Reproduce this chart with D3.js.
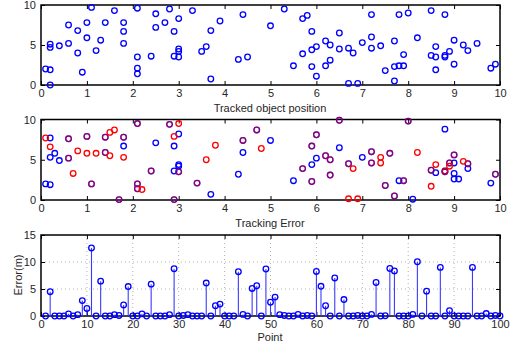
<!DOCTYPE html>
<html>
<head>
<meta charset="utf-8">
<script src="https://cdn.jsdelivr.net/npm/d3@7/dist/d3.min.js"></script>
<style>
  body { margin: 0; background: #fff; }
  text { font-family: "Liberation Sans", Arial, sans-serif; }
</style>
</head>
<body>
<svg id="chart" width="511" height="360"></svg>
<script>
// ---- data ----
const posX = [0.1, 0.2, 0.2, 0.2, 0.2, 0.4, 0.6, 0.6, 0.8, 0.8, 0.9, 1.0, 1.0, 1.1, 1.2, 1.3, 1.4, 1.6, 1.8, 1.8, 1.8,
  2.1, 2.1, 2.1, 2.1, 2.4, 2.5, 2.5, 2.7, 2.8, 2.9, 2.9, 3.0, 3.0, 3.0, 3.0, 3.3, 3.5, 3.6, 3.7, 3.7, 3.9, 4.3, 4.4, 4.5,
  5.0, 5.3, 5.5, 5.7, 5.7, 5.8, 5.9, 5.9, 5.9, 6.0, 6.0, 6.2, 6.2, 6.3, 6.3, 6.5, 6.5, 6.7, 6.7, 6.8, 6.9, 7.0,
  7.2, 7.2, 7.2, 7.4, 7.5, 7.7, 7.7, 7.7, 7.8, 7.8, 7.9, 7.9, 8.0, 8.2, 8.5, 8.5, 8.6, 8.6, 8.6, 8.8, 8.8, 8.8,
  8.9, 9.0, 9.0, 9.2, 9.3, 9.5, 9.8, 9.9]
const posY = [2.0, 1.9, 0.0, 5.1, 4.7, 4.9, 7.5, 5.2, 6.8, 4.0, 1.6, 7.8, 5.9, 9.7, 4.3, 5.6, 7.8, 9.3, 7.8, 6.7, 5.2,
  9.6, 3.5, 2.1, 1.4, 3.6, 8.9, 7.2, 7.8, 9.5, 6.7, 3.6, 8.3, 4.5, 4.2, 3.5, 9.3, 4.2, 4.8, 6.8, 0.75, 8.0, 3.2, 8.8, 3.5,
  7.4, 9.5, 2.4, 8.3, 3.9, 8.7, 6.7, 4.4, 2.3, 4.8, 1.1, 5.5, 2.4, 5.0, 3.1, 6.5, 4.5, 4.6, 0.2, 4.0, 0.2, 5.3,
  8.8, 6.0, 4.6, 4.9, 1.8, 5.5, 2.3, 0.5, 8.8, 2.4, 3.8, 2.4, 9.0, 5.9, 9.3, 3.7, 4.8, 3.5, 1.9, 8.8, 3.7, 3.5,
  4.2, 5.6, 2.6, 5.0, 4.3, 5.2, 2.1, 2.6]

// tracking error panel: true positions (blue) and estimates (red); shared points appear in both
const trueX = [0.2, 0.3, 0.2, 0.4, 0.1, 0.2, 1.8, 2.5, 2.9, 2.9, 3.0, 3.0, 3.0, 3.7, 4.3, 4.4, 5.0, 5.5, 5.9, 6.0,
  6.5, 7.0, 7.8, 8.1, 8.6, 8.8, 9.0, 9.0, 9.0, 9.1, 9.3, 9.8,
  0.6, 0.6, 1.0, 1.1, 1.4, 1.4, 1.8, 1.7, 2.1, 2.1, 2.1, 2.4, 2.8, 2.9, 3.0, 3.4, 4.4, 4.7, 5.7, 5.9, 5.9, 6.0,
  6.2, 6.3, 6.3, 6.5, 6.7, 7.2, 7.2, 7.6, 7.5, 7.7, 7.9, 8.0, 8.5, 8.8, 8.8, 8.9, 9.0, 9.3, 9.9]
const trueY = [7.7, 5.8, 5.3, 4.9, 2.0, 1.9, 6.7, 7.1, 6.7, 3.6, 8.2, 4.4, 4.2, 0.7, 3.2, 5.9, 7.4, 2.4, 4.4, 5.2,
  6.5, 5.3, 2.4, 0.1, 3.4, 8.8, 4.6, 3.3, 2.6, 2.6, 3.9, 2.1,
  7.6, 5.2, 7.9, 2.0, 7.8, 5.9, 7.8, 0.05, 9.5, 2.0, 1.4, 3.6, 9.4, 0.05, 3.5, 2.1, 7.4, 8.7, 3.9, 6.7, 2.3, 8.1,
  5.5, 5.0, 3.1, 9.9, 4.5, 6.0, 4.6, 5.8, 1.8, 0.5, 2.4, 9.8, 3.7, 3.6, 3.5, 4.6, 5.6, 4.5, 3.2]
const estX = [0.1, 0.2, 0.7, 0.8, 1.0, 1.2, 1.5, 1.5, 1.6, 1.8, 2.2, 2.9, 3.0, 3.6, 3.8, 4.8, 6.8, 6.7, 6.9,
  7.4, 7.4, 8.2, 8.5, 8.6, 8.9, 9.2,
  0.6, 0.6, 1.0, 1.1, 1.4, 1.4, 1.8, 1.7, 2.1, 2.1, 2.1, 2.4, 2.8, 2.9, 3.0, 3.4, 4.4, 4.7, 5.7, 5.9, 5.9, 6.0,
  6.2, 6.3, 6.3, 6.5, 6.7, 7.2, 7.2, 7.6, 7.5, 7.7, 7.9, 8.0, 8.5, 8.8, 8.8, 8.9, 9.0, 9.3, 9.9]
const estY = [7.7, 6.6, 3.3, 6.1, 5.8, 5.8, 8.4, 5.5, 8.7, 5.3, 1.3, 7.9, 9.5, 5.0, 6.8, 6.4, 3.9, 0.15, 0.15,
  5.3, 4.6, 5.9, 1.7, 4.4, 4.2, 4.8,
  7.6, 5.2, 7.9, 2.0, 7.8, 5.9, 7.8, 0.05, 9.5, 2.0, 1.4, 3.6, 9.4, 0.05, 3.5, 2.1, 7.4, 8.7, 3.9, 6.7, 2.3, 8.1,
  5.5, 5.0, 3.1, 9.9, 4.5, 6.0, 4.6, 5.8, 1.8, 0.5, 2.4, 9.8, 3.7, 3.6, 3.5, 4.6, 5.6, 4.5, 3.2]

// error per point, points 1..100
const errors = [0, 4.5, 0, 0, 0, 0.4, 0, 0.25, 2.85, 1.4,
  12.6, 0, 6.45, 0, 0, 0.25, 0.1, 2.05, 5.45, 0,
  0, 0.4, 0, 5.9, 0, 0, 0, 0.25, 8.75, 0,
  0.1, 0.25, 0, 0, 0, 6.1, 0, 1.9, 2.2, 0,
  0, 0, 8.2, 0.3, 0, 5.1, 5.6, 0, 8.7, 2.55,
  3.5, 0.25, 0.1, 0, 0, 0.3, 0, 0.1, 0, 8.25,
  5.5, 1.9, 0, 7.05, 0, 3.05, 0, 0, 0.1, 0,
  0, 0.3, 6.2, 0, 0.05, 8.8, 8.35, 0, 0, 0,
  0.3, 10.05, 0, 4.6, 0, 0, 9.0, 0, 1.0, 0,
  0, 0, 0, 9.0, 0, 0, 0.45, 0, 0.1, 0]

const posTicks = [0, 1, 2, 3, 4, 5, 6, 7, 8, 9, 10]
const posYTicks = [0, 5, 10]
const pointTicks = [0, 10, 20, 30, 40, 50, 60, 70, 80, 90, 100]
const errTicks = [0, 5, 10, 15]

// ---- layout ----
const LEFT = 41
const RIGHT = 500
const svg = d3.select('#chart')

function frame (top, bottom, xDomain, yDomain, xTicks, yTicks, grid) {
  const x = d3.scaleLinear().domain(xDomain).range([LEFT, RIGHT])
  const y = d3.scaleLinear().domain(yDomain).range([bottom, top])
  const g = svg.append('g')

  if (grid) {
    g.selectAll('line.gx').data(xTicks.slice(1, -1)).enter().append('line')
      .attr('x1', d => x(d)).attr('x2', d => x(d)).attr('y1', top).attr('y2', bottom)
      .style('stroke', '#b0b0b0').style('stroke-dasharray', '1,3')
    g.selectAll('line.gy').data(yTicks.slice(1, -1)).enter().append('line')
      .attr('y1', d => y(d)).attr('y2', d => y(d)).attr('x1', LEFT).attr('x2', RIGHT)
      .style('stroke', '#b0b0b0').style('stroke-dasharray', '1,3')
  }

  const ax = [
    [d3.axisBottom(x).tickValues(xTicks).tickPadding(4), `translate(0,${bottom})`],
    [d3.axisTop(x).tickValues(xTicks).tickFormat(''), `translate(0,${top})`],
    [d3.axisLeft(y).tickValues(yTicks).tickPadding(5), `translate(${LEFT},0)`],
    [d3.axisRight(y).tickValues(yTicks).tickFormat(''), `translate(${RIGHT},0)`]
  ]
  ax.forEach(([a, t]) => {
    g.append('g').attr('transform', t)
      .call(a.tickSizeInner(-4).tickSizeOuter(0))
      .call(s => s.select('.domain').remove())
      .call(s => s.selectAll('line').style('stroke', '#000'))
      .call(s => s.selectAll('text').style('font-size', '11px').style('fill', '#262626')
        .style('font-family', '"Liberation Sans", Arial, sans-serif'))
  })

  g.append('rect')
    .attr('x', LEFT).attr('y', top).attr('width', RIGHT - LEFT).attr('height', bottom - top)
    .style('fill', 'none').style('stroke', '#000').style('stroke-width', 1.5)

  return { x, y, g }
}

function label (text, x, y, rotate) {
  svg.append('text')
    .attr('transform', `translate(${x},${y})` + (rotate ? ' rotate(-90)' : ''))
    .attr('text-anchor', 'middle')
    .style('font-size', '11px').style('fill', '#262626')
    .text(text)
}

const R = 2.8

// top: tracked object position
const p1 = frame(5, 85, [0, 10], [0, 10], posTicks, posYTicks, false)
p1.g.selectAll('circle').data(posX).enter().append('circle')
  .attr('cx', d => p1.x(d)).attr('cy', (d, i) => p1.y(posY[i])).attr('r', R)
  .style('fill', 'none').style('stroke', '#0000ff').style('stroke-width', 1.3)
label('Tracked object position', 270, 112)

// middle: tracking error
const p2 = frame(119.5, 200, [0, 10], [0, 10], posTicks, posYTicks, false)
p2.g.selectAll('circle.t').data(trueX).enter().append('circle')
  .attr('cx', d => p2.x(d)).attr('cy', (d, i) => p2.y(trueY[i])).attr('r', R)
  .style('fill', 'none').style('stroke', '#0000ff').style('stroke-width', 1.3)
const shared = (d, i) => trueX.some((tx, j) => tx === d && trueY[j] === estY[i])
p2.g.selectAll('circle.e').data(estX).enter().append('circle')
  .attr('cx', d => p2.x(d)).attr('cy', (d, i) => p2.y(estY[i])).attr('r', R)
  .style('fill', 'none').style('stroke', '#ff0000').style('stroke-width', 1.3)
  .style('stroke-opacity', (d, i) => shared(d, i) ? 0.55 : 1)
label('Tracking Error', 270, 227)

// bottom: error per point (stem plot)
const p3 = frame(235, 316, [0, 100], [0, 15], pointTicks, errTicks, true)
p3.g.selectAll('line.stem').data(errors).enter().append('line')
  .attr('x1', (d, i) => p3.x(i + 1)).attr('x2', (d, i) => p3.x(i + 1))
  .attr('y1', p3.y(0)).attr('y2', d => p3.y(d))
  .style('stroke', '#3a3aff').style('stroke-width', 1.1)
p3.g.selectAll('circle').data(errors).enter().append('circle')
  .attr('cx', (d, i) => p3.x(i + 1)).attr('cy', d => p3.y(d)).attr('r', R)
  .style('fill', 'none').style('stroke', '#0000ff').style('stroke-width', 1.3)
label('Point', 270, 341)
label('Error(m)', 22, 275, true)
</script>
</body>
</html>
